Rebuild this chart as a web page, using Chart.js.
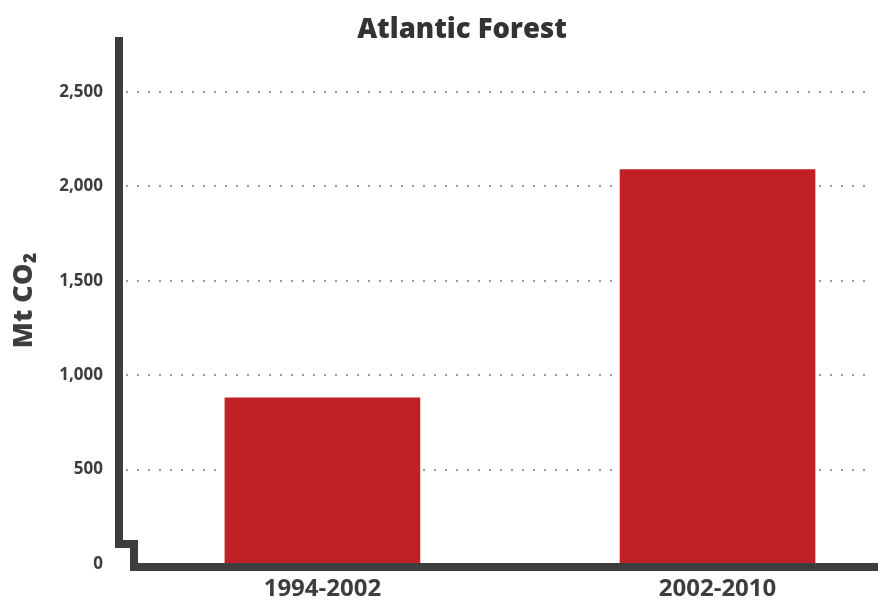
<!DOCTYPE html>
<html>
<head>
<meta charset="utf-8">
<script src="https://cdn.jsdelivr.net/npm/chart.js@4"></script>
<style>
  html, body { margin: 0; padding: 0; background: #fff; }
  #wrap { width: 878px; height: 604px; position: relative; }
</style>
</head>
<body>
<div id="wrap"><canvas id="chart"></canvas></div>
<script>
// ===== Data =====
let categories = ["1994-2002", "2002-2010"];
let emissions = [880, 2090];
let yTicks = [0, 500, 1000, 1500, 2000, 2500];

let titleText = "Atlantic Forest";
let yTitle = "Mt CO\u2082";

let ink = "#3d3d3d";
let barColor = "#c12027";

// ===== Title (drawn over the chart, offset like the original) =====
let titlePlugin = {
  id: "titleText",
  afterDraw(chart) {
    let ctx = chart.ctx;
    ctx.save();
    ctx.font = "800 27.5px 'Open Sans', sans-serif";
    ctx.fillStyle = "#333";
    ctx.textAlign = "center";
    ctx.textBaseline = "alphabetic";
    ctx.fillText(titleText, 462, 38);
    ctx.restore();
  }
};

// ===== Axis line with the little step near zero =====
let axisPlugin = {
  id: "stepAxis",
  afterDatasetsDraw(chart) {
    let ctx = chart.ctx;
    let area = chart.chartArea;
    let zero = Math.round(chart.scales.y.getPixelForValue(0));
    let x0 = area.left + 4;
    ctx.save();
    ctx.strokeStyle = ink;
    ctx.lineWidth = 8;
    ctx.lineJoin = "miter";
    ctx.lineCap = "butt";
    ctx.beginPath();
    ctx.moveTo(x0, area.top);
    ctx.lineTo(x0, zero - 20);
    ctx.lineTo(x0 + 15, zero - 20);
    ctx.lineTo(x0 + 15, zero + 3);
    ctx.lineTo(chart.width, zero + 3);
    ctx.stroke();
    ctx.restore();
  }
};

// ===== Chart =====
let ctx = document.getElementById("chart").getContext("2d");

let chart = new Chart(ctx, {
  type: "bar",
  data: {
    datasets: [{
      data: emissions.map((v, i) => ({ x: i, y: v })),
      backgroundColor: barColor,
      borderWidth: 0,
      barThickness: 195
    }]
  },
  plugins: [titlePlugin, axisPlugin],
  options: {
    responsive: true,
    maintainAspectRatio: false,
    animation: false,
    layout: { padding: { top: 37, right: 6, left: 0, bottom: 0 } },
    plugins: {
      legend: { display: false },
      tooltip: { enabled: false }
    },
    scales: {
      x: {
        type: "linear",
        offset: false,
        min: -0.525,
        max: 1.391,
        grid: { display: false, drawTicks: false },
        border: { display: false },
        afterBuildTicks: scale => {
          scale.ticks = categories.map((c, i) => ({ value: i }));
        },
        afterFit: scale => { scale.height = 40; },
        ticks: {
          padding: 11,
          color: ink,
          font: { family: "'Open Sans', sans-serif", size: 24, weight: "700" },
          callback: v => categories[v]
        }
      },
      y: {
        min: 0,
        max: 2792,
        grid: {
          drawTicks: false,
          lineWidth: 2,
          color: c => (c.tick && c.tick.value === 0) ? "rgba(0,0,0,0)" : "#9a9a9a"
        },
        border: { display: false, dash: [2, 9] },
        afterBuildTicks: scale => {
          scale.ticks = yTicks.map(v => ({ value: v }));
        },
        afterFit: scale => { scale.width = 115; },
        ticks: {
          padding: 12,
          color: ink,
          font: { family: "'Open Sans', sans-serif", size: 17, weight: "700" },
          callback: v => v.toLocaleString("en-US")
        },
        title: {
          display: true,
          text: yTitle,
          color: ink,
          padding: { top: 8, bottom: 0 },
          font: { family: "'Open Sans', sans-serif", size: 27, weight: "800" }
        }
      }
    }
  }
});
</script>
</body>
</html>
